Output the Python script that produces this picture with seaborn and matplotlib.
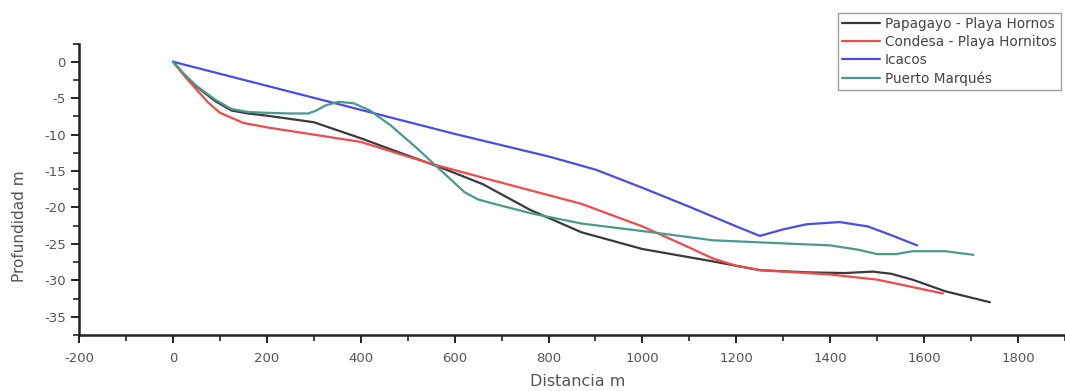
import numpy as np
import pandas as pd
import matplotlib
matplotlib.use("Agg")
import matplotlib.pyplot as plt
from matplotlib.ticker import MultipleLocator
import seaborn as sns

# Data
papagayo_x = [0, 25, 50, 90, 125, 160, 200, 300, 400, 480, 570, 660, 760, 870, 1000, 1150, 1250, 1350, 1430, 1490, 1530, 1575, 1645, 1740]
papagayo_y = [0, -1.8, -3.4, -5.4, -6.7, -7.1, -7.4, -8.3, -10.5, -12.4, -14.5, -16.8, -20.3, -23.4, -25.7, -27.4, -28.6, -28.9, -29.0, -28.8, -29.1, -29.9, -31.5, -33.0]

condesa_x = [0, 25, 50, 75, 100, 150, 200, 270, 400, 550, 700, 870, 1000, 1100, 1150, 1200, 1250, 1400, 1500, 1640]
condesa_y = [0, -2.0, -3.8, -5.6, -7.0, -8.4, -9.0, -9.7, -11.0, -14.0, -16.6, -19.5, -22.6, -25.5, -27.0, -28.0, -28.6, -29.2, -29.9, -31.8]

icacos_x = [0, 200, 400, 600, 800, 900, 1000, 1100, 1200, 1250, 1300, 1350, 1420, 1480, 1530, 1585]
icacos_y = [0, -3.3, -6.6, -9.9, -13.0, -14.8, -17.3, -19.9, -22.6, -23.9, -23.0, -22.3, -22.0, -22.6, -23.8, -25.2]

marques_x = [0, 25, 50, 90, 125, 160, 196, 250, 288, 305, 325, 352, 385, 420, 465, 522, 579, 621, 650, 690, 763, 870, 1008, 1150, 1290, 1400, 1460, 1500, 1540, 1575, 1645, 1705]
marques_y = [0, -1.8, -3.3, -5.2, -6.5, -6.9, -7.0, -7.1, -7.1, -6.7, -6.0, -5.5, -5.7, -6.7, -8.8, -12.0, -15.4, -17.9, -18.9, -19.6, -20.8, -22.2, -23.3, -24.5, -24.9, -25.2, -25.8, -26.4, -26.4, -26.0, -26.0, -26.5]

series_names = ["Papagayo - Playa Hornos", "Condesa - Playa Hornitos", "Icacos", "Puerto Marqués"]
series_colors = ["#3a3a3a", "#f04a4a", "#4b4be8", "#4a9a8c"]

frames = []
for name, xs, ys in zip(series_names,
                        [papagayo_x, condesa_x, icacos_x, marques_x],
                        [papagayo_y, condesa_y, icacos_y, marques_y]):
    frames.append(pd.DataFrame({"Distancia": xs, "Profundidad": ys, "Perfil": name}))
df = pd.concat(frames, ignore_index=True)

sns.set_style("ticks")
plt.rcParams["font.family"] = ["DejaVu Sans"]
plt.rcParams["axes.unicode_minus"] = False

fig = plt.figure(figsize=(10.65, 3.91), dpi=100)
ax = fig.add_axes([0.0742, 0.1432, 0.9258, 0.7455])

sns.lineplot(data=df, x="Distancia", y="Profundidad", hue="Perfil",
             hue_order=series_names, palette=series_colors, sort=False,
             estimator=None, linewidth=1.6, ax=ax)

ax.set_xlim(-200, 1900)
ax.set_ylim(-37.5, 2.5)
ax.xaxis.set_major_locator(MultipleLocator(200))
ax.xaxis.set_minor_locator(MultipleLocator(100))
ax.yaxis.set_major_locator(MultipleLocator(5))
ax.yaxis.set_minor_locator(MultipleLocator(2.5))
ax.tick_params(which="major", direction="out", length=5.5, width=1.4, labelsize=9.5, colors="#222222", labelcolor="#555555")
ax.tick_params(axis="x", which="major", pad=7)
ax.tick_params(axis="y", which="major", pad=4)
ax.tick_params(which="minor", direction="out", length=4, width=1.2, colors="#222222")
for side in ["top", "right"]:
    ax.spines[side].set_visible(False)
for side in ["left", "bottom"]:
    ax.spines[side].set_linewidth(1.8)
    ax.spines[side].set_color("#222222")

ax.set_xlabel("Distancia m", fontsize=11.5, color="#555555")
ax.set_ylabel("Profundidad m", fontsize=11, color="#555555")
ax.xaxis.label.set_verticalalignment("center")
ax.yaxis.label.set_verticalalignment("center")
ax.xaxis.set_label_coords(0.506, -0.158)
ax.yaxis.set_label_coords(-0.060, 0.374)

leg = ax.legend(loc="upper left", bbox_to_anchor=(0.787, 0.967), bbox_transform=fig.transFigure,
                fontsize=9.8, frameon=True, fancybox=False, borderpad=0.3, labelspacing=0.3,
                handlelength=2.8, handletextpad=0.35, borderaxespad=0)
leg.get_frame().set_edgecolor("#888888")
leg.get_frame().set_linewidth(1.0)
for t in leg.get_texts():
    t.set_color("#444444")

fig.savefig("out.png", dpi=100)
